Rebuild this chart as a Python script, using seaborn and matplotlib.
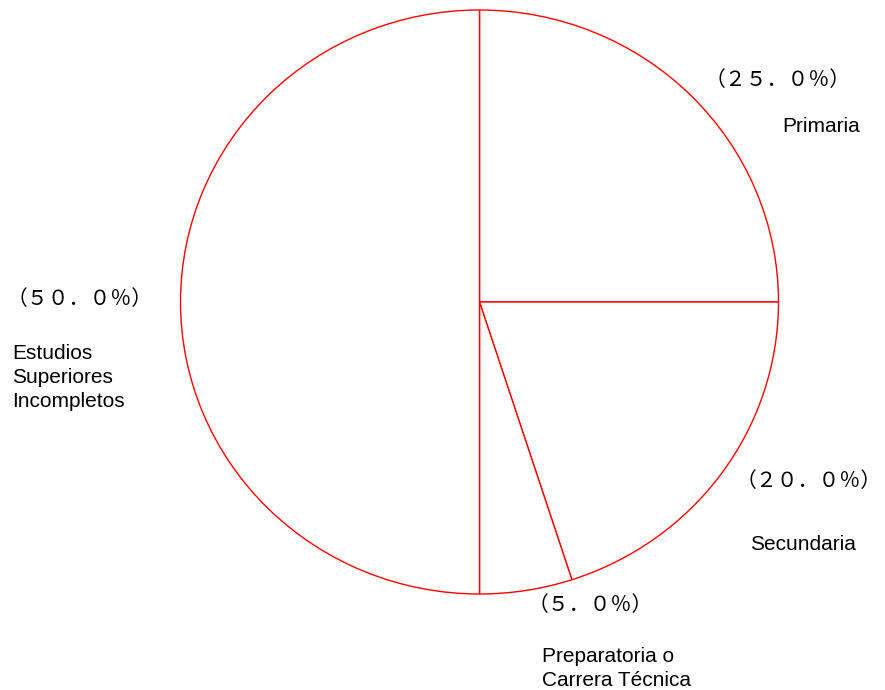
import matplotlib
matplotlib.use("Agg")
import matplotlib.pyplot as plt
import seaborn as sns

# ---- data ----
categories = ["Primaria", "Secundaria", "Preparatoria o\nCarrera Técnica",
              "Estudios\nSuperiores\nIncompletos"]
values = [25.0, 20.0, 5.0, 50.0]
pct_labels = ["（２５．０％）", "（２０．０％）", "（５．０％）", "（５０．０％）"]

sns.set_theme(style="white")
plt.rcParams["font.family"] = ["Liberation Sans", "DejaVu Sans"]

W, H, DPI = 885, 690, 100
fig = plt.figure(figsize=(W / DPI, H / DPI), dpi=DPI)
fig.patch.set_facecolor("white")

# pie axes placed by pixel bounds (slightly elliptical like the reference)
left, right, top, bottom = 180.5, 778.5, 10.0, 594.0
ax = fig.add_axes([left / W, (H - bottom) / H, (right - left) / W, (bottom - top) / H])
wedges, _ = ax.pie(values, startangle=90, counterclock=False, radius=1.0,
                   colors=["white"] * len(values),
                   wedgeprops=dict(edgecolor="#ff0000", linewidth=1.0))
for w in wedges:
    w.set_clip_on(False)
ax.set_aspect("auto")
ax.set_xlim(-1, 1)
ax.set_ylim(-1, 1)
ax.axis("off")

# label anchors (pixel, top-left origin; baseline of the last line)
pct_pos = [(705, 86), (736, 487), (528, 611), (7, 305)]
cat_pos = [(782, 132), (750, 550), (542, 686), (12, 407)]

def px(x, y):
    return x / W, 1 - y / H

for lab, (x, y) in zip(pct_labels, pct_pos):
    fig.text(*px(x, y), lab, ha="left", va="baseline", fontsize=15,
             family=["Noto Sans CJK JP", "DejaVu Sans"],
             color="black")

for lab, (x, y) in zip(categories, cat_pos):
    fig.text(*px(x, y), lab, ha="left", va="baseline", fontsize=15,
             linespacing=1.32, color="black")

fig.savefig("out.png", dpi=DPI, facecolor="white")
